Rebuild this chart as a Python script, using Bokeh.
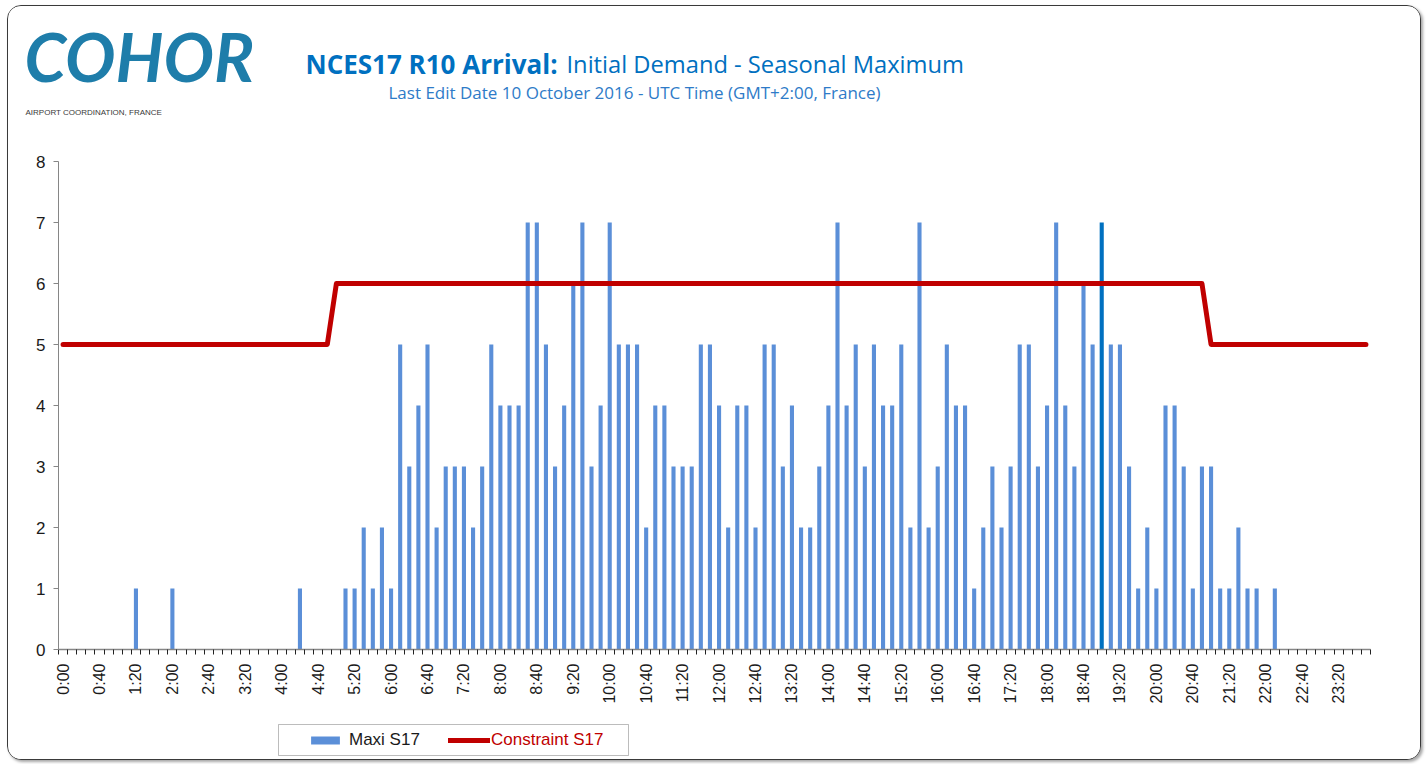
import math
from bokeh.plotting import figure
from bokeh.models import (Range1d, FixedTicker, Label, Legend, LegendItem,
                          BoxAnnotation, ColumnDataSource, Column)
from bokeh.embed import file_html
from bokeh.resources import INLINE

# ---------------- data ----------------
slot_times = [f"{h}:{m:02d}" for h in range(24) for m in range(0, 60, 10)]

maxi_s17 = [
    0, 0, 0, 0, 0, 0, 0, 0, 1, 0, 0, 0,   # 0:00-1:50
    1, 0, 0, 0, 0, 0, 0, 0, 0, 0, 0, 0,   # 2:00-3:50
    0, 0, 1, 0, 0, 0, 0, 1, 1, 2, 1, 2,   # 4:00-5:50
    1, 5, 3, 4, 5, 2, 3, 3, 3, 2, 3, 5,   # 6:00-7:50
    4, 4, 4, 7, 7, 5, 3, 4, 6, 7, 3, 4,   # 8:00-9:50
    7, 5, 5, 5, 2, 4, 4, 3, 3, 3, 5, 5,   # 10:00-11:50
    4, 2, 4, 4, 2, 5, 5, 3, 4, 2, 2, 3,   # 12:00-13:50
    4, 7, 4, 5, 3, 5, 4, 4, 5, 2, 7, 2,   # 14:00-15:50
    3, 5, 4, 4, 1, 2, 3, 2, 3, 5, 5, 3,   # 16:00-17:50
    4, 7, 4, 3, 6, 5, 7, 5, 5, 3, 1, 2,   # 18:00-19:50
    1, 4, 4, 3, 1, 3, 3, 1, 1, 2, 1, 1,   # 20:00-21:50
    0, 1, 0, 0, 0, 0, 0, 0, 0, 0, 0, 0,   # 22:00-23:50
]

constraint_s17 = [
    5, 5, 5, 5, 5, 5, 5, 5, 5, 5, 5, 5,
    5, 5, 5, 5, 5, 5, 5, 5, 5, 5, 5, 5,
    5, 5, 5, 5, 5, 5, 6, 6, 6, 6, 6, 6,
    6, 6, 6, 6, 6, 6, 6, 6, 6, 6, 6, 6,
    6, 6, 6, 6, 6, 6, 6, 6, 6, 6, 6, 6,
    6, 6, 6, 6, 6, 6, 6, 6, 6, 6, 6, 6,
    6, 6, 6, 6, 6, 6, 6, 6, 6, 6, 6, 6,
    6, 6, 6, 6, 6, 6, 6, 6, 6, 6, 6, 6,
    6, 6, 6, 6, 6, 6, 6, 6, 6, 6, 6, 6,
    6, 6, 6, 6, 6, 6, 6, 6, 6, 6, 6, 6,
    6, 6, 6, 6, 6, 6, 5, 5, 5, 5, 5, 5,
    5, 5, 5, 5, 5, 5, 5, 5, 5, 5, 5, 5,
]

tick_labels = ["0:00", "0:40", "1:20", "2:00", "2:40", "3:20", "4:00", "4:40",
               "5:20", "6:00", "6:40", "7:20", "8:00", "8:40", "9:20", "10:00",
               "10:40", "11:20", "12:00", "12:40", "13:20", "14:00", "14:40",
               "15:20", "16:00", "16:40", "17:20", "18:00", "18:40", "19:20",
               "20:00", "20:40", "21:20", "22:00", "22:40", "23:20"]

highlight_time = "19:00"

# ---------------- styles ----------------
FONT = "Liberation Sans"
TITLE_FONT = "Open Sans"
BAR_COLOR = "#5B8FD8"
HI_COLOR = "#0070C0"
RED = "#C00000"
W = 1412
OX, OY = 8, 6          # page position of the content's top-left corner

# ---------------- header figure ----------------
HH = 132
ph = figure(width=W, height=HH, output_backend="svg", toolbar_location=None,
            x_range=Range1d(0, W), y_range=Range1d(HH, 0),
            min_border=0, x_axis_type=None, y_axis_type=None)
ph.outline_line_color = None
ph.grid.visible = False


def hlabel(px, py, text, **kw):
    ph.add_layout(Label(x=px - OX, y=py - OY, text=text, text_baseline="middle", **kw))


hlabel(24, 55, "COHOR", text_font="Lato", text_font_style="bold italic",
       text_font_size="67px", text_color="#1E7DAA", text_align="left")
hlabel(25, 112, "AIRPORT COORDINATION, FRANCE", text_font="Liberation Sans",
       text_font_size="8px", text_color="#3a3a3a", text_align="left")
hlabel(305, 63, "NCES17 R10 Arrival:", text_font=TITLE_FONT, text_font_style="bold",
       text_font_size="26px", text_color="#0070C0", text_align="left")
hlabel(566, 63, "Initial Demand - Seasonal Maximum", text_font=TITLE_FONT,
       text_font_size="23.7px", text_color="#0070C0", text_align="left")
hlabel(634, 92, "Last Edit Date 10 October 2016 - UTC Time (GMT+2:00, France)",
       text_font=TITLE_FONT, text_font_size="17px", text_color="#2E7BC8",
       text_align="center")

# ---------------- main figure ----------------
xs = list(range(len(slot_times)))
bar_colors = [HI_COLOR if t == highlight_time else BAR_COLOR for t in slot_times]
src = ColumnDataSource(dict(x=xs, t=slot_times, maxi=maxi_s17,
                            cons=constraint_s17, color=bar_colors))

MAIN_TOP, FRAME_TOP, FRAME_BOTTOM, MAIN_BOTTOM = 138, 161, 649, 715
p = figure(width=W, height=MAIN_BOTTOM - MAIN_TOP, output_backend="svg",
           toolbar_location=None,
           x_range=Range1d(-0.5, len(slot_times) - 0.5), y_range=Range1d(0, 8),
           min_border_left=58 - OX, min_border_right=OX + W - 1370,
           min_border_top=FRAME_TOP - MAIN_TOP,
           min_border_bottom=MAIN_BOTTOM - FRAME_BOTTOM)
p.outline_line_color = None
p.xgrid.grid_line_color = None
p.ygrid.grid_line_color = None

bars = p.vbar(x="x", top="maxi", width=0.45, source=src, fill_color="color",
              line_color=None)
line = p.line(x="x", y="cons", source=src, line_color=RED, line_width=5,
              line_join="round", line_cap="round")

label_pos = [slot_times.index(l) for l in tick_labels]
p.xaxis.ticker = FixedTicker(ticks=label_pos,
                             minor_ticks=[i - 0.5 for i in range(len(slot_times) + 1)])
p.xaxis.major_label_overrides = {i: slot_times[i] for i in label_pos}
p.xaxis.major_label_orientation = math.pi / 2
p.xaxis.major_tick_out = 0
p.xaxis.major_tick_in = 0
p.xaxis.minor_tick_out = 5
p.xaxis.minor_tick_in = 0
p.xaxis.minor_tick_line_color = "#222222"
p.xaxis.axis_line_color = "#868686"
p.xaxis.axis_line_width = 1.5
p.xaxis.major_label_text_font = FONT
p.xaxis.major_label_text_font_size = "16px"
p.xaxis.major_label_text_color = "#1a1a1a"
p.xaxis.major_label_standoff = 9

p.yaxis.ticker = FixedTicker(ticks=list(range(0, 9)))
p.yaxis.major_tick_out = 5
p.yaxis.major_tick_in = 0
p.yaxis.minor_tick_line_color = None
p.yaxis.axis_line_color = "#868686"
p.yaxis.major_tick_line_color = "#868686"
p.yaxis.major_label_text_font = FONT
p.yaxis.major_label_text_font_size = "17px"
p.yaxis.major_label_text_color = "#1a1a1a"
p.yaxis.major_label_standoff = 8

# ---------------- legend figure ----------------
LT = MAIN_BOTTOM
LH = 759 - LT
pl = figure(width=W, height=LH, output_backend="svg", toolbar_location=None,
            x_range=Range1d(0, W), y_range=Range1d(LH, 0),
            min_border=0, x_axis_type=None, y_axis_type=None)
pl.outline_line_color = None
pl.grid.visible = False

pl.add_layout(BoxAnnotation(left=278 - OX, right=628 - OX, top=724 - LT,
                            bottom=755 - LT, fill_color="white", fill_alpha=1.0,
                            line_color="#222222", line_width=1))
# legend proxies (zero-size marks; the legend draws their swatches)
leg_bar = pl.vbar(x=[0], top=[0], bottom=[0], width=0, fill_color=BAR_COLOR,
                  line_color=None)
leg_line = pl.line(x=[0], y=[0], line_color=RED, line_width=5, line_cap="round")

row_bottom_from_frame_bottom = (759 - 750)
leg1 = Legend(items=[LegendItem(label="Maxi S17", renderers=[leg_bar])],
              location=(307 - OX, row_bottom_from_frame_bottom),
              orientation="horizontal",
              glyph_width=36, glyph_height=10, label_standoff=6, padding=0,
              margin=0, border_line_color=None, background_fill_alpha=0,
              label_text_font=FONT, label_text_font_size="17px",
              label_text_color="#1a1a1a", label_height=20)
leg2 = Legend(items=[LegendItem(label="Constraint S17", renderers=[leg_line])],
              location=(448 - OX, row_bottom_from_frame_bottom),
              orientation="horizontal",
              glyph_width=42, glyph_height=8, label_standoff=1, padding=0,
              margin=0, border_line_color=None, background_fill_alpha=0,
              label_text_font=FONT, label_text_font_size="17px",
              label_text_color=RED, label_height=20)
pl.add_layout(leg1)
pl.add_layout(leg2)

layout = Column(children=[Column(children=[ph]), Column(children=[p]),
                          Column(children=[pl])], spacing=0,
                styles={"border": "1px solid #3a3a3a", "border-radius": "14px",
                        "margin-left": "7px", "margin-top": "5px",
                        "overflow": "hidden", "background": "white",
                        "box-shadow": "2px 2px 3px rgba(0,0,0,0.35)"})

open("out.html", "w").write(file_html(layout, INLINE))
